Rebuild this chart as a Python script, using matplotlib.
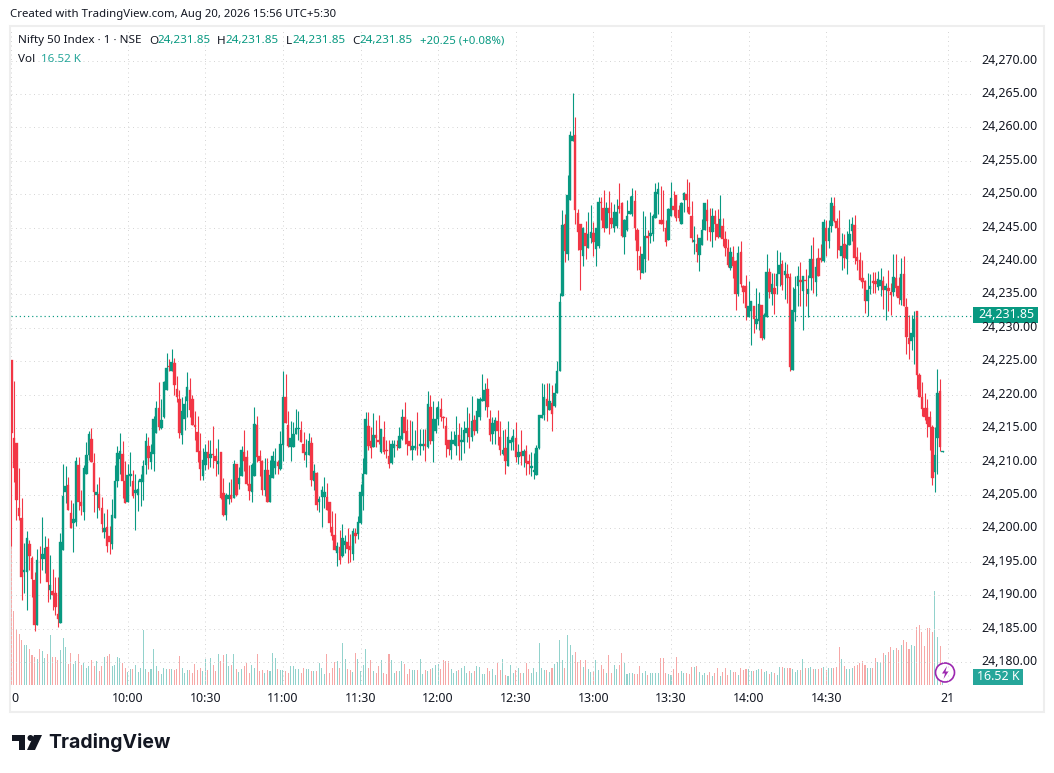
# Nifty 50 one minute candles
import matplotlib
matplotlib.use("Agg")
import matplotlib.pyplot as plt
from matplotlib.patches import Rectangle, Circle, Polygon
from matplotlib.transforms import IdentityTransform, Affine2D
import numpy as np

# prices are points above 24,000
PRICE_BASE = 24000

opens = [
    225.2,213.5,212.8,203.1,201.5,193.5,193.5,197.7,195.5,192.3,
    185.5,195.0,195.4,195.4,197.2,190.8,190.6,190.3,187.2,185.8,
    196.8,205.5,206.5,202.3,200.8,200.9,209.5,204.0,202.5,208.2,
    211.0,213.4,209.8,205.0,205.2,203.1,199.5,200.2,198.9,197.7,
    201.5,207.1,210.4,211.2,207.1,204.0,207.9,207.1,205.3,205.0,
    206.9,206.9,209.5,212.3,210.0,211.2,214.3,218.0,215.0,216.6,
    220.7,224.3,223.6,224.8,220.8,219.3,213.9,216.4,219.0,220.7,
    219.3,215.5,214.4,211.6,207.9,209.5,211.5,210.6,211.2,210.8,
    209.6,211.4,205.3,202.0,204.4,205.0,204.6,209.6,206.7,207.8,
    211.4,210.7,206.7,205.5,207.8,215.5,210.9,210.1,205.8,208.8,
    203.9,207.6,209.1,209.9,208.9,212.5,219.7,215.5,212.2,212.2,
    214.1,214.9,214.7,212.6,211.0,211.0,212.8,207.1,208.3,204.0,
    204.7,204.7,204.7,203.9,200.2,199.0,196.3,197.2,195.8,197.5,
    198.0,197.3,196.2,199.3,199.2,200.8,204.8,208.1,215.3,213.1,
    212.2,214.0,213.2,211.5,213.6,211.8,210.8,209.8,212.1,212.5,
    212.1,213.4,216.6,214.5,213.1,211.7,212.1,212.1,212.3,212.3,
    212.7,212.2,218.2,213.1,214.5,216.4,217.8,216.7,215.3,213.2,
    211.8,212.7,212.4,214.0,213.0,213.0,214.3,215.0,213.6,216.2,
    214.5,216.6,219.0,219.1,220.9,216.4,214.1,214.6,216.1,213.6,
    211.1,212.0,209.3,212.8,212.9,213.5,210.7,211.5,210.9,211.6,
    210.1,209.0,208.5,208.0,212.0,216.5,217.0,219.3,217.7,218.8,
    218.3,220.3,223.6,234.7,245.5,241.0,249.2,257.9,258.9,247.2,
    245.5,240.8,244.2,241.9,243.4,244.2,241.8,242.3,248.9,247.9,
    244.9,248.0,246.4,244.9,245.3,248.3,248.7,243.6,244.6,247.1,
    247.1,249.0,244.7,240.7,238.2,240.3,243.7,243.8,244.0,246.4,
    250.1,246.2,246.2,244.9,243.2,246.8,248.3,249.9,247.7,245.5,
    249.2,250.1,248.1,246.8,242.8,242.6,240.9,242.4,244.7,247.7,
    245.1,244.4,246.7,245.6,243.6,245.3,243.3,241.9,239.0,240.6,
    240.0,235.1,241.4,236.2,236.2,231.7,232.5,233.2,230.6,231.1,
    233.4,228.5,231.7,238.3,235.1,235.9,236.3,238.0,239.6,237.9,
    238.0,237.6,223.7,232.4,236.2,237.1,235.5,237.1,235.1,237.5,
    240.3,236.9,240.4,240.4,240.0,245.0,243.0,245.2,248.3,246.0,
    245.0,240.7,242.5,240.3,242.4,244.5,245.4,240.6,240.1,237.4,
    237.0,234.0,235.8,237.0,237.0,236.1,236.2,237.0,235.7,236.0,
    235.4,235.4,237.4,236.2,234.2,238.1,233.1,228.5,228.0,228.7,
    232.6,222.9,219.7,218.0,218.0,216.7,215.2,208.4,213.5,220.5,211.5,
]
highs = [
    225.2,222.1,212.8,209.0,204.5,197.8,199.6,198.3,195.9,193.5,
    196.9,197.4,201.7,198.9,198.5,196.0,193.9,192.7,192.7,199.3,
    209.6,209.3,207.7,204.3,203.8,210.7,210.7,205.8,209.5,212.9,
    214.6,215.0,211.3,206.7,207.7,204.7,202.3,202.9,200.3,204.4,
    209.5,212.3,214.3,213.1,210.1,209.6,211.4,208.7,208.2,207.2,
    208.1,210.2,214.3,213.6,212.7,216.8,219.1,221.9,219.3,222.0,
    226.3,225.4,226.9,225.5,222.8,220.7,219.7,219.8,223.4,222.5,
    220.0,217.5,216.8,214.2,212.1,212.6,213.2,213.2,215.3,212.0,
    213.4,211.4,207.5,205.3,206.9,207.4,210.3,209.7,209.2,212.3,
    214.7,211.8,209.5,209.8,218.2,216.8,211.7,210.3,210.6,210.6,
    210.2,211.6,212.0,210.2,214.6,223.6,223.1,217.6,216.0,215.9,
    217.9,217.5,216.0,214.4,213.4,214.3,213.6,209.7,208.4,204.9,
    206.4,207.7,206.8,204.0,202.6,202.3,197.9,199.8,200.7,199.0,
    200.1,199.2,200.1,200.0,201.8,206.7,210.5,217.4,217.4,215.2,
    217.3,216.2,217.0,214.8,216.0,213.2,213.2,213.2,213.2,213.2,
    215.2,217.9,218.9,216.3,216.2,216.0,214.7,217.4,214.9,214.9,
    214.8,220.5,220.0,219.1,218.2,219.0,219.5,216.8,216.7,213.2,
    214.5,214.5,216.8,215.7,215.2,216.1,218.2,217.2,219.8,217.0,
    219.5,219.6,223.1,221.7,222.5,217.7,216.6,216.7,217.7,216.0,
    214.7,214.8,216.0,213.7,214.8,215.9,212.7,214.7,211.9,212.5,
    211.1,211.5,211.3,212.5,217.0,221.8,221.6,221.8,221.7,221.5,
    221.8,225.0,235.2,247.7,247.0,252.9,259.4,265.2,261.5,247.8,
    245.5,245.1,246.0,247.4,248.4,245.9,245.0,249.6,249.6,250.7,
    248.9,250.5,248.8,248.5,249.3,251.7,248.9,246.3,249.2,249.8,
    250.9,250.6,244.9,242.3,247.5,246.7,244.7,247.4,247.0,251.7,
    251.8,251.3,250.7,246.1,247.9,251.8,250.5,249.9,248.4,248.9,
    250.4,252.2,251.8,249.0,245.2,244.0,243.5,246.3,248.7,249.3,
    247.9,247.9,247.7,247.8,249.9,246.5,244.5,243.3,242.1,242.2,
    240.2,242.3,243.0,236.4,237.9,237.0,234.0,233.2,236.0,235.4,
    233.4,232.3,241.1,238.9,238.2,238.2,241.7,241.3,240.2,239.9,
    239.6,238.2,236.1,237.8,239.3,239.9,237.8,238.8,237.9,242.4,
    243.6,240.4,241.9,242.5,246.3,246.2,246.2,249.6,249.6,246.4,
    247.7,244.2,244.1,244.5,246.3,246.6,246.9,242.1,241.3,240.1,
    237.1,238.2,238.1,238.3,238.4,238.5,238.9,237.8,236.7,238.7,
    236.7,241.0,241.0,237.6,240.4,240.8,234.4,231.9,231.9,232.6,
    232.6,223.3,221.9,220.2,219.3,217.5,215.5,215.1,223.9,222.4,211.6,
]
lows = [
    197.4,206.9,201.3,201.3,189.3,190.3,187.8,193.8,189.8,184.7,
    185.5,191.8,193.8,193.3,189.0,189.5,187.8,187.0,185.2,185.8,
    196.8,203.8,202.7,200.0,196.4,200.4,202.8,202.0,201.3,208.2,
    210.2,210.0,202.5,201.6,202.8,199.4,198.5,196.4,196.1,196.9,
    201.5,206.2,208.2,204.5,203.8,204.0,206.3,204.5,199.8,202.6,
    203.4,204.2,208.2,208.9,208.9,208.6,214.2,214.7,214.8,216.5,
    220.7,223.5,223.6,220.0,218.9,213.5,212.7,214.7,216.7,216.7,
    215.4,213.2,210.0,207.2,207.2,208.7,208.9,209.2,209.0,207.9,
    208.2,204.4,201.9,201.3,203.7,204.0,204.5,204.9,205.9,207.8,
    208.6,206.5,204.3,204.0,207.8,210.0,207.8,205.0,204.9,204.0,
    203.9,207.6,208.2,208.2,208.8,210.1,215.8,212.2,210.1,212.2,
    214.1,213.2,213.0,210.2,209.2,211.0,206.4,205.8,202.8,202.5,
    200.2,203.0,202.8,199.4,198.3,196.8,194.3,194.7,195.7,196.3,
    194.8,194.9,195.3,197.8,198.4,200.7,202.8,208.1,211.7,210.6,
    212.2,212.2,212.7,211.3,211.2,210.5,209.0,209.7,210.7,211.7,
    212.0,213.2,212.7,211.0,211.7,210.2,211.7,211.0,211.0,211.7,
    210.1,212.1,212.7,210.0,214.2,215.5,216.1,215.0,210.7,211.0,
    210.4,212.5,211.0,210.3,210.2,211.3,213.0,212.1,213.1,214.0,
    214.3,216.2,219.0,217.7,216.7,213.1,212.7,212.6,212.5,211.0,
    211.0,208.1,209.3,211.7,211.7,210.0,209.7,209.5,209.2,208.0,
    208.2,207.8,207.4,208.0,211.9,216.5,216.2,216.0,217.7,214.5,
    218.2,220.3,223.5,234.7,239.8,240.2,249.2,257.9,245.6,241.6,
    235.6,239.3,240.3,241.9,242.7,240.7,239.2,242.0,246.2,244.3,
    244.9,244.0,244.9,244.3,244.9,247.2,243.6,241.1,244.5,247.1,
    246.7,243.1,238.7,237.3,238.2,238.4,240.2,242.7,243.0,246.4,
    247.0,245.6,244.5,242.2,243.2,246.8,246.7,246.0,246.0,245.5,
    247.4,247.4,247.1,242.8,241.0,239.8,238.5,242.4,244.6,243.2,
    243.0,242.1,243.2,243.5,243.6,242.2,240.7,239.1,238.7,237.4,
    232.7,234.7,236.1,233.7,231.2,231.6,227.4,229.2,229.8,229.7,
    228.2,228.3,231.6,234.4,233.4,232.1,235.0,236.2,235.7,234.3,
    233.7,223.5,223.7,231.0,233.2,233.3,229.7,233.3,231.6,235.7,
    235.2,234.8,237.8,239.9,239.8,240.8,241.9,244.4,245.9,240.4,
    241.6,238.7,239.0,238.1,242.4,243.0,239.6,238.7,237.1,236.0,
    232.2,231.8,235.0,235.2,235.2,235.7,234.7,232.8,231.2,232.5,
    232.0,234.7,234.7,233.5,233.4,233.2,226.1,225.4,226.7,224.6,
    220.9,219.6,216.8,216.2,213.6,211.7,206.5,205.4,208.2,211.6,211.5,
]
closes = [
    214.3,209.0,204.3,201.8,192.8,193.8,198.5,195.8,192.5,185.5,
    195.3,194.9,196.1,197.0,192.0,191.5,190.0,188.3,186.4,198.0,
    204.9,206.4,202.8,200.1,201.4,210.1,204.0,203.3,209.0,211.0,
    214.1,210.0,205.4,205.4,203.1,200.7,200.0,197.4,197.9,202.0,
    207.1,211.3,211.6,207.1,203.8,208.0,208.1,204.9,205.7,205.9,
    207.4,209.3,213.1,210.6,211.5,216.4,218.0,215.1,216.2,221.9,
    224.0,224.2,224.9,221.4,219.6,214.3,217.6,218.6,221.1,217.7,
    215.5,215.1,211.4,208.9,210.2,211.4,210.6,211.2,211.0,210.1,
    210.1,204.6,202.0,205.0,205.0,204.4,209.6,205.0,207.5,211.8,
    210.1,206.6,205.6,209.5,215.6,210.7,210.1,205.7,208.8,204.0,
    208.0,210.8,210.1,209.3,212.6,219.7,215.8,212.3,213.5,214.1,
    215.0,215.0,213.0,211.3,211.5,213.1,207.3,208.6,203.5,204.4,
    205.8,205.5,202.8,200.8,198.8,196.8,197.4,195.3,198.5,198.1,
    196.9,196.8,199.6,198.8,201.0,205.4,208.1,216.4,212.3,212.1,
    214.0,213.5,212.9,214.8,211.5,211.6,209.6,212.7,212.7,212.4,
    213.8,216.6,214.3,212.7,212.3,212.3,212.3,212.0,212.7,212.7,
    212.4,218.6,213.1,216.4,216.4,218.1,216.6,216.5,212.5,211.9,
    213.3,213.3,214.0,212.4,213.2,214.7,215.0,213.6,216.0,214.5,
    217.6,219.3,219.3,220.7,218.2,214.0,215.7,216.2,214.5,211.7,
    211.7,210.1,213.6,213.2,213.8,210.7,211.5,210.8,211.6,209.8,
    209.6,209.3,208.7,212.0,217.0,217.0,219.6,218.3,219.0,217.1,
    220.3,223.6,233.9,245.4,241.5,249.9,258.9,258.7,247.7,244.3,
    241.7,244.9,242.3,244.1,244.4,242.8,244.9,248.8,248.7,244.9,
    248.0,247.2,245.6,247.4,247.4,247.8,243.7,246.2,246.8,247.5,
    249.8,244.9,241.5,238.6,241.1,243.8,243.5,244.2,246.8,250.3,
    250.8,245.6,245.6,242.8,247.8,249.5,247.7,246.4,246.4,248.7,
    250.2,249.2,247.1,243.4,243.1,241.3,243.5,244.7,248.7,246.0,
    244.4,246.7,245.6,243.6,246.3,243.3,241.9,239.4,241.4,239.3,
    235.0,241.2,236.6,235.4,232.9,233.3,234.0,231.4,231.3,233.6,
    228.5,231.9,238.3,235.3,236.6,235.1,238.0,239.4,236.4,238.5,
    237.5,224.1,232.7,235.8,237.8,236.9,237.8,237.0,235.8,240.3,
    237.5,239.1,237.8,240.2,245.9,243.0,245.0,248.7,246.0,244.9,
    241.6,242.3,240.5,242.4,244.0,245.6,240.4,240.0,237.2,236.9,
    234.0,235.7,236.3,236.7,236.6,237.3,237.2,235.7,236.3,235.5,
    234.9,237.6,236.0,234.5,238.1,233.3,228.7,227.6,229.3,231.3,
    222.9,219.6,217.9,216.7,215.6,215.1,207.6,211.0,220.2,212.2,211.6,
]
# volume in thousands
volumes = [
    417,221,169,154,134,119,119,109,89,84,
    77,107,102,81,94,149,84,84,74,104,
    141,114,64,96,64,71,94,59,67,51,
    56,74,56,71,41,56,84,86,92,56,
    59,84,81,67,51,39,47,47,59,39,
    51,164,47,39,47,107,56,41,34,52,
    49,47,49,44,47,86,52,37,44,44,
    35,62,44,52,41,77,44,81,59,42,
    94,71,89,92,56,59,92,47,39,49,
    56,67,37,59,51,92,41,44,37,44,
    41,96,82,47,44,44,41,37,56,56,
    47,47,37,52,47,49,41,41,41,66,
    52,32,92,37,52,69,71,51,125,77,
    47,44,39,95,77,41,59,109,52,74,
    41,37,56,74,37,34,94,74,37,41,
    41,71,62,34,49,44,44,44,79,34,
    44,41,47,52,59,64,47,74,71,71,
    49,37,41,44,51,56,37,41,36,41,
    56,54,34,34,50,42,48,30,67,44,
    77,30,26,60,35,45,50,35,35,65,
    48,35,50,40,125,50,44,44,38,50,
    62,70,135,75,52,150,120,90,100,70,
    75,55,75,47,40,42,75,45,60,47,
    35,90,35,60,48,60,95,65,33,36,
    37,34,34,57,35,42,30,35,36,35,
    36,80,82,37,33,30,47,85,35,42,
    37,35,34,55,55,58,40,30,36,30,
    40,28,36,50,28,38,52,30,45,40,
    38,30,52,45,48,48,42,42,45,48,
    48,38,42,32,38,35,30,55,55,52,
    50,52,47,40,45,45,78,52,52,55,
    48,48,48,52,54,45,52,52,52,55,
    115,77,58,48,47,50,58,60,65,72,
    60,52,52,50,80,70,65,95,90,100,
    115,105,110,105,120,135,130,108,120,118,
    175,180,160,118,170,170,160,282,143,118,16.52,
]

time_ticks = [0, 45, 75, 105, 135, 165, 195, 225, 255, 285, 315, 362]
time_labels = ["", "10:00", "10:30", "11:00", "11:30", "12:00", "12:30", "13:00", "13:30", "14:00", "14:30", "21"]
price_ticks = list(range(24180, 24275, 5))
last_price = 24231.85

GREEN = "#089981"
RED = "#f23645"
TEXT = "#131722"
FONT = "Noto Sans"
W, H = 1054, 773


def px(x, y):
    # screenshot pixel to figure fraction
    return x / W, 1 - y / H


opens = np.array(opens) + PRICE_BASE
highs = np.array(highs) + PRICE_BASE
lows = np.array(lows) + PRICE_BASE
closes = np.array(closes) + PRICE_BASE
x = np.arange(len(opens))
up = closes >= opens
colors = np.where(up, GREEN, RED)

plt.rcParams["font.family"] = FONT
fig = plt.figure(figsize=(W / 100, H / 100), dpi=100, facecolor="white")
left, right, top, bottom = 10.5, 972, 28, 685
ax = fig.add_axes([left / W, 1 - bottom / H, (right - left) / W, (bottom - top) / H])
ax_vol = ax.twinx()
ax.set_zorder(ax_vol.get_zorder() + 1)
ax.patch.set_visible(False)

# volume sits under the candles, one K is a third of a pixel
vol_colors = np.where(up, "#26a69a", "#ef5350")
ax_vol.bar(x, volumes, width=0.4, color=vol_colors, alpha=0.5, linewidth=0)
ax_vol.set_ylim(0, 1971)
ax_vol.set_yticks([])

ax.vlines(x, lows, highs, colors=colors, linewidth=0.8, zorder=3)
ax.bar(x, closes - opens, bottom=opens, width=0.95, color=colors, edgecolor=colors, linewidth=0.25, zorder=4)

ax.set_xlim((left - 11.3) / 2.587, (right - 11.3) / 2.587)
ax.set_ylim(24225 + (361.3 - bottom) / 6.684, 24225 + (361.3 - top) / 6.684)
ax.set_xticks(time_ticks)
ax.set_xticklabels(time_labels, fontweight="medium")
ax.set_yticks(price_ticks)
ax.set_yticklabels([f"{p:,.2f}" for p in price_ticks], fontweight="medium")
ax.yaxis.tick_right()
ax.tick_params(axis="both", length=0, colors=TEXT, labelsize=8.9)
ax.tick_params(axis="y", pad=6.5)
ax.tick_params(axis="x", pad=5)
ax.grid(True, color="#d6d6d6", linewidth=0.72, linestyle=(0, (1, 3.5)))
ax.set_axisbelow(True)
for a in (ax, ax_vol):
    for s in a.spines.values():
        s.set_visible(False)
# the scale text sits a little above its grid line
for lab in ax.get_yticklabels():
    lab.set_transform(lab.get_transform() + Affine2D().translate(0, 2))

ax.axhline(last_price, color=GREEN, linewidth=0.85, linestyle=(0, (1, 2.5)), zorder=5)

# frame round the chart
fig.add_artist(Rectangle(px(10, 712), 1034 / W, 686 / H, transform=fig.transFigure, fill=False,
                         edgecolor="#eeeeee", linewidth=1.5))

fig.text(*px(10, 14), "Created with TradingView.com, Aug 20, 2026 15:56 UTC+5:30", fontsize=8.2,
         color=TEXT, va="center")

# legend lines
fig.text(*px(18, 41), "Nifty 50 Index · 1 · NSE", fontsize=8.4, color=TEXT, va="center")
for xpos, letter, val_x, val in [(149, "O", 158, "24,231.85"), (217, "H", 226, "24,231.85"),
                                 (286, "L", 292.5, "24,231.85"), (352, "C", 360, "24,231.85")]:
    fig.text(*px(xpos, 41), letter, fontsize=8.4, color=TEXT, va="center")
    fig.text(*px(val_x, 41), val, fontsize=8.4, color=GREEN, va="center")
fig.text(*px(420, 41), "+20.25 (+0.08%)", fontsize=8.2, color=GREEN, va="center")
fig.text(*px(18, 59), "Vol", fontsize=8.4, color=TEXT, va="center")
fig.text(*px(41, 59), "16.52 K", fontsize=8.4, color="#26a69a", va="center")

# clipped first time label
fig.text(*px(14.5, 699), "0", fontsize=8.9, fontweight="medium", color=TEXT, va="center", ha="center")

# last price and volume tags on the scale
fig.add_artist(Rectangle(px(973, 323), 65 / W, 16 / H, transform=fig.transFigure, color=GREEN, linewidth=0))
fig.text(*px(1006, 315), "24,231.85", fontsize=8.9, color="white", va="center", ha="center")
fig.add_artist(Rectangle(px(973, 685), 50 / W, 16 / H, transform=fig.transFigure, color="#26a69a", linewidth=0))
fig.text(*px(998, 677), "16.52 K", fontsize=8.9, color="white", va="center", ha="center")

# purple flash badge
fig.add_artist(Circle((945, H - 672.5), 9.5, transform=IdentityTransform(), facecolor="white",
                      edgecolor="#9c27b0", linewidth=1.2))
bolt = [(947, 666), (942, 673.5), (945, 673.5), (943.5, 679), (948.5, 671.5), (945.5, 671.5)]
fig.add_artist(Polygon([(a, H - b) for a, b in bolt], transform=IdentityTransform(), color="#9c27b0", linewidth=0))

# logo
logo_t = [(12, 735), (25, 735), (25, 750), (19, 750), (19, 741), (12, 741)]
logo_slash = [(34, 735), (42, 735), (35, 750), (27, 750)]
for shape in (logo_t, logo_slash):
    fig.add_artist(Polygon([(a, H - b) for a, b in shape], transform=IdentityTransform(), color=TEXT, linewidth=0))
fig.add_artist(Circle((30.5, H - 738), 3, transform=IdentityTransform(), color=TEXT, linewidth=0))
fig.text(*px(48, 743), "TradingView", fontsize=14, fontfamily="Inter", fontweight="bold", color=TEXT, va="center")

fig.savefig("out.png", dpi=100, facecolor="white")
